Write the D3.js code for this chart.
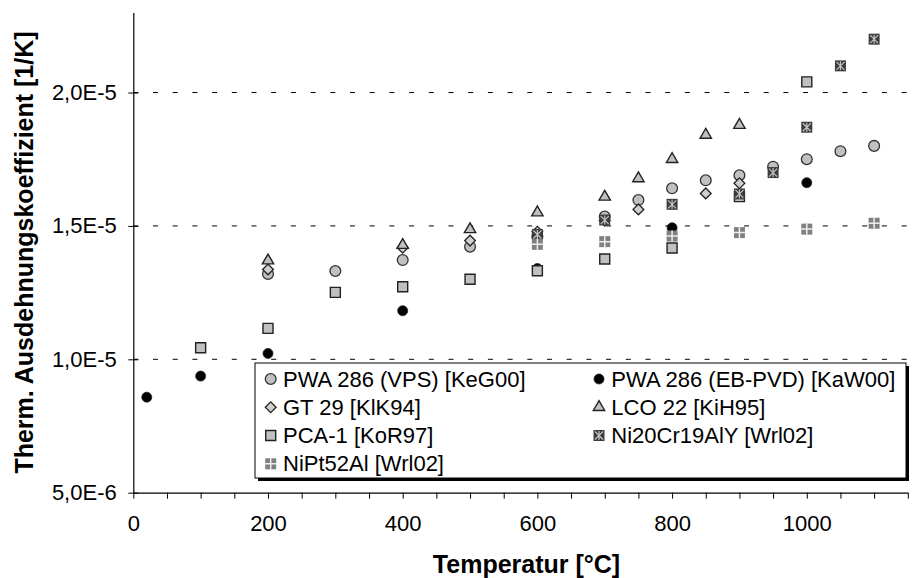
<!DOCTYPE html>
<html>
<head>
<meta charset="utf-8">
<script src="https://cdn.jsdelivr.net/npm/d3@7"></script>
<style>
body{margin:0;background:#fff}
text{font-family:"Liberation Sans",Arial,sans-serif;fill:#000}
</style>
</head>
<body>
<script>
const width = 914;
const height = 578;

// PWA 286 (VPS) [KeG00]
const tempVps  = [200, 300, 400, 500, 600, 700, 750, 800, 850, 900, 950, 1000, 1050, 1100];
const alphaVps = [1.32e-5, 1.331e-5, 1.372e-5, 1.422e-5, 1.46e-5, 1.535e-5, 1.597e-5, 1.641e-5, 1.671e-5, 1.69e-5, 1.722e-5, 1.75e-5, 1.78e-5, 1.80e-5];
// PWA 286 (EB-PVD) [KaW00]
const tempEb  = [20, 100, 200, 400, 600, 800, 1000];
const alphaEb = [8.58e-6, 9.37e-6, 1.022e-5, 1.182e-5, 1.34e-5, 1.493e-5, 1.662e-5];
// GT 29 [KlK94]
const tempGt  = [200, 400, 500, 600, 700, 750, 850, 900];
const alphaGt = [1.337e-5, 1.418e-5, 1.445e-5, 1.478e-5, 1.52e-5, 1.562e-5, 1.622e-5, 1.66e-5];
// LCO 22 [KiH95]
const tempLco  = [200, 400, 500, 600, 700, 750, 800, 850, 900];
const alphaLco = [1.37e-5, 1.428e-5, 1.487e-5, 1.55e-5, 1.609e-5, 1.678e-5, 1.75e-5, 1.841e-5, 1.878e-5];
// PCA-1 [KoR97]
const tempPca  = [100, 200, 300, 400, 500, 600, 700, 800, 900, 1000];
const alphaPca = [1.0435e-5, 1.116e-5, 1.251e-5, 1.272e-5, 1.30e-5, 1.332e-5, 1.376e-5, 1.417e-5, 1.61e-5, 2.04e-5];
// Ni20Cr19AlY [Wrl02]
const tempNiCr  = [600, 700, 800, 900, 950, 1000, 1050, 1100];
const alphaNiCr = [1.468e-5, 1.522e-5, 1.581e-5, 1.62e-5, 1.70e-5, 1.87e-5, 2.1e-5, 2.2e-5];
// NiPt52Al [Wrl02]
const tempNiPt  = [600, 700, 800, 900, 1000, 1100];
const alphaNiPt = [1.431e-5, 1.441e-5, 1.462e-5, 1.475e-5, 1.488e-5, 1.51e-5];

const seriesNames = [
    "PWA 286 (VPS) [KeG00]", "PWA 286 (EB-PVD) [KaW00]",
    "GT 29 [KlK94]", "LCO 22 [KiH95]",
    "PCA-1 [KoR97]", "Ni20Cr19AlY [Wrl02]",
    "NiPt52Al [Wrl02]"
];
const markerKinds = ["circle", "dot", "diamond", "triangle", "square", "xsquare", "plussquare"];

const xTicks = d3.range(0, 1151, 50);
const xLabels = [0, 200, 400, 600, 800, 1000];
const yTicks = [5e-6, 1e-5, 1.5e-5, 2e-5];
const gridValues = [1e-5, 1.5e-5, 2e-5];

const series = [
    [tempVps, alphaVps], [tempEb, alphaEb], [tempGt, alphaGt], [tempLco, alphaLco],
    [tempPca, alphaPca], [tempNiCr, alphaNiCr], [tempNiPt, alphaNiPt]
].map((s, i) => ({
    name: seriesNames[i],
    kind: markerKinds[i],
    points: s[0].map((t, j) => ({t: t, v: s[1][j]}))
}));

const x = d3.scaleLinear([0, 1150], [133.3, 907.8]);
const y = d3.scaleLinear([5e-6, 2.3e-5], [492.7, 12.5]);

function sci(v){
    const e = Math.floor(Math.log10(v) + 1e-9);
    const m = v / Math.pow(10, e);
    return m.toFixed(1).replace(".", ",") + "E" + e;
}

const svg = d3.select(document.body).append("svg")
    .attr("width", width)
    .attr("height", height);

// dashed gridlines
svg.append("g")
    .selectAll("line")
    .data(gridValues)
    .join("line")
    .attr("x1", x(0)).attr("x2", x(1150))
    .attr("y1", d => y(d)).attr("y2", d => y(d))
    .attr("stroke", "#000")
    .attr("stroke-width", 1)
    .attr("stroke-dasharray", "5,14.7");

// x axis
const xAxis = svg.append("g")
    .attr("transform", `translate(0,${y.range()[0]})`)
    .call(d3.axisBottom(x)
        .tickValues(xTicks)
        .tickSize(6)
        .tickSizeOuter(0)
        .tickPadding(17)
        .tickFormat(d => xLabels.includes(d) ? d : ""));
xAxis.selectAll("text").attr("font-size", 22).attr("font-family", null);

// y axis, ticks crossing the line
const yAxis = svg.append("g")
    .attr("transform", `translate(${x(0)},0)`)
    .call(d3.axisLeft(y)
        .tickValues(yTicks)
        .tickSize(5)
        .tickSizeOuter(0)
        .tickPadding(11.6)
        .tickFormat(sci));
yAxis.selectAll(".tick line").attr("x1", 5);
yAxis.selectAll("text").attr("font-size", 22).attr("font-family", null);
svg.selectAll(".domain").attr("stroke", "#000").attr("stroke-width", 1.2);

// axis titles
svg.append("text")
    .attr("x", 526.5).attr("y", 573)
    .attr("text-anchor", "middle")
    .attr("font-size", 25)
    .attr("font-weight", "bold")
    .text("Temperatur [°C]");

svg.append("text")
    .attr("transform", "translate(33,252.5) rotate(-90)")
    .attr("text-anchor", "middle")
    .attr("font-size", 25)
    .attr("font-weight", "bold")
    .text("Therm. Ausdehnungskoeffizient [1/K]");

function drawMarker(g, kind){
    if(kind == "circle"){
        g.append("circle").attr("r", 5.4).attr("fill", "#c0c0c0").attr("stroke", "#333").attr("stroke-width", 1.3);
    } else if(kind == "dot"){
        g.append("circle").attr("r", 5).attr("fill", "#000").attr("stroke", "#222").attr("stroke-width", 0.8);
    } else if(kind == "diamond"){
        g.append("path")
            .attr("d", d3.symbol(d3.symbolSquare, 58)())
            .attr("transform", "rotate(45)")
            .attr("fill", "#cfcfcf").attr("stroke", "#222").attr("stroke-width", 1.3);
    } else if(kind == "triangle"){
        g.append("path")
            .attr("d", d3.symbol(d3.symbolTriangle, 56)())
            .attr("fill", "#c0c0c0").attr("stroke", "#222").attr("stroke-width", 1.4);
    } else if(kind == "square"){
        g.append("path")
            .attr("d", d3.symbol(d3.symbolSquare, 100)())
            .attr("fill", "#c0c0c0").attr("stroke", "#222").attr("stroke-width", 1.4);
    } else if(kind == "xsquare"){
        g.append("path")
            .attr("d", d3.symbol(d3.symbolSquare, 121)())
            .attr("fill", "#3c3c3c");
        g.append("path")
            .attr("d", "M-4,-4L4,4M4,-4L-4,4M0,-4.5V4.5")
            .attr("stroke", "#c4c4c4").attr("stroke-width", 1.2).attr("fill", "none");
    } else if(kind == "plussquare"){
        g.append("path")
            .attr("d", d3.symbol(d3.symbolSquare, 121)())
            .attr("fill", "#808080");
        g.append("path")
            .attr("d", "M-5.5,0H5.5M0,-5.5V5.5")
            .attr("stroke", "#eee").attr("stroke-width", 1.5).attr("fill", "none");
    }
}

// data markers
const plot = svg.append("g");
series.forEach(s => {
    plot.append("g")
        .selectAll("g")
        .data(s.points)
        .join("g")
        .attr("transform", d => `translate(${x(d.t)},${y(d.v)})`)
        .each(function(){ drawMarker(d3.select(this), s.kind); });
});

// legend
const legend = svg.append("g");
legend.append("rect")
    .attr("x", 258).attr("y", 366).attr("width", 651).attr("height", 115)
    .attr("fill", "#000");
legend.append("rect")
    .attr("x", 255).attr("y", 363).attr("width", 651).attr("height", 115)
    .attr("fill", "#fff").attr("stroke", "#000").attr("stroke-width", 1);

const colX = [270.7, 599];
const rowY = [386.5, 414.7, 443, 471.3];
series.forEach((s, i) => {
    const cx = colX[i % 2];
    const cy = rowY[Math.floor(i / 2)];
    const mg = legend.append("g").attr("transform", `translate(${cx},${cy - 7.5})`);
    drawMarker(mg, s.kind);
    legend.append("text")
        .attr("x", cx + 12.3).attr("y", cy)
        .attr("font-size", 22)
        .text(s.name);
});
</script>
</body>
</html>
